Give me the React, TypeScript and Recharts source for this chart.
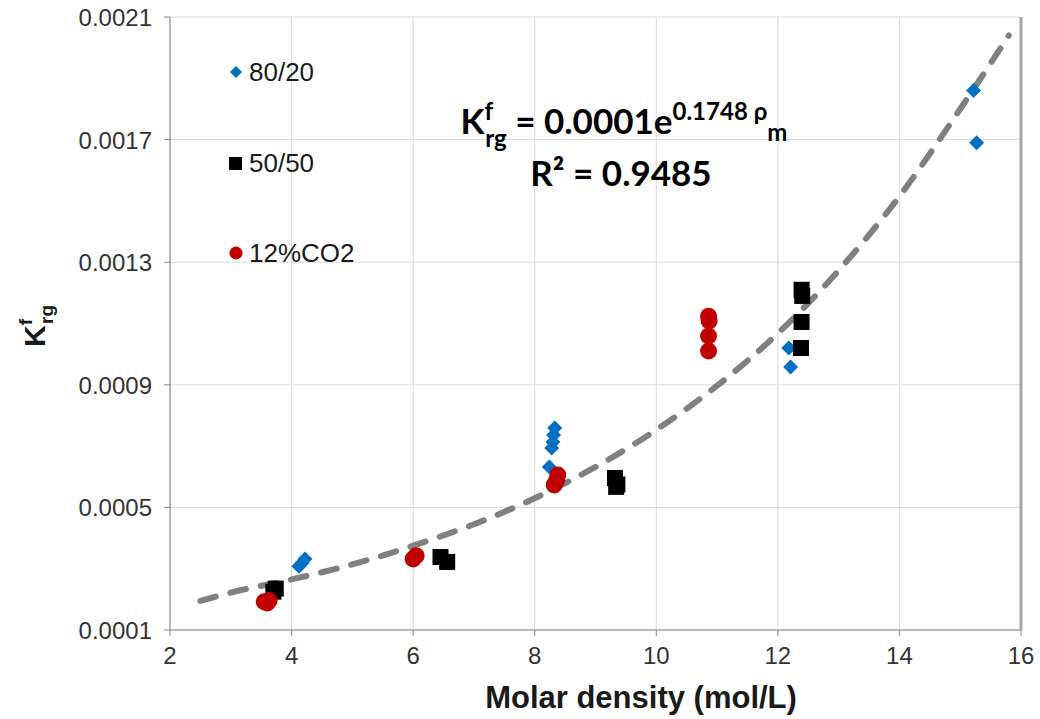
import React from 'react';
import { ScatterChart, Scatter, XAxis, YAxis, CartesianGrid, ReferenceLine } from 'recharts';

// x ticks / y ticks
const xTicks = [2, 4, 6, 8, 10, 12, 14, 16];
const yTicks = [0.0001, 0.0005, 0.0009, 0.0013, 0.0017, 0.0021];
const yTickLabels = ['0.0001', '0.0005', '0.0009', '0.0013', '0.0017', '0.0021'];

// 80/20
const x8020 = [4.12, 4.17, 4.22, 8.24, 8.28, 8.3, 8.31, 8.33, 12.18, 12.21, 15.22, 15.27];
const y8020 = [0.000308, 0.000318, 0.000332, 0.000632, 0.000694, 0.000713, 0.000736, 0.000759, 0.00102, 0.000958, 0.00186, 0.00169];

// 50/50
const x5050 = [3.7, 3.74, 6.45, 6.56, 9.32, 9.34, 9.36, 12.39, 12.4, 12.39, 12.38];
const y5050 = [0.000225, 0.000235, 0.000338, 0.000322, 0.000596, 0.000567, 0.000575, 0.00121, 0.00119, 0.001105, 0.00102];

// 12%CO2
const xCO2 = [3.55, 3.6, 3.63, 6.0, 6.05, 8.38, 8.36, 8.32, 10.86, 10.87, 10.86, 10.86];
const yCO2 = [0.000192, 0.000188, 0.000196, 0.000332, 0.000342, 0.000606, 0.000588, 0.000573, 0.001124, 0.001108, 0.001059, 0.00101];

// trendline
const trendX = [2.5, 3, 4, 5, 6, 7, 8, 9, 10, 11, 12, 13, 14, 15, 15.8];
const trendY = [0.000195, 0.000222, 0.000265, 0.000314, 0.000375, 0.000445, 0.00053, 0.000632, 0.000753, 0.000897, 0.001068, 0.001273, 0.001515, 0.0018, 0.00204];

const zip = (xs: number[], ys: number[]) => xs.map((x, i) => ({ x, y: ys[i] }));
const data8020 = zip(x8020, y8020);
const data5050 = zip(x5050, y5050);
const dataCO2 = zip(xCO2, yCO2);
const dataTrend = zip(trendX, trendY);

const FONT = '"Liberation Sans", Arial, sans-serif';
const TEXT = '#333333';

const Diamond = (p: any) => (
  <polygon
    points={`${p.cx},${p.cy - 7.5} ${p.cx + 7.5},${p.cy} ${p.cx},${p.cy + 7.5} ${p.cx - 7.5},${p.cy}`}
    fill="#0070c0"
  />
);
const Square = (p: any) => <rect x={p.cx - 8} y={p.cy - 8} width={16} height={16} fill="#000" />;
const Dot = (p: any) => <circle cx={p.cx} cy={p.cy} r={8.5} fill="#c00000" />;
const NoShape = () => <g />;

const YTick = (p: any) => {
  const i = yTicks.indexOf(p.payload.value);
  return (
    <text x={p.x - 10} y={p.y + 9} textAnchor="end" fontSize={24} fontFamily={FONT} fill={TEXT}>
      {i >= 0 ? yTickLabels[i] : p.payload.value}
    </text>
  );
};

const XTick = (p: any) => (
  <text x={p.x} y={p.y + 26} textAnchor="middle" fontSize={24} fontFamily={FONT} fill={TEXT}>
    {p.payload.value}
  </text>
);

const App = () => {
  return (
    <div style={{ position: 'absolute', left: 0, top: 0, width: 1040, height: 719, background: '#fff' }}>
      <ScatterChart width={1040} height={719} margin={{ top: 17, right: 19, left: 0, bottom: 0 }}>
        <CartesianGrid stroke="#d9d9d9" strokeWidth={1} />
        <XAxis
          type="number"
          dataKey="x"
          domain={[2, 16]}
          ticks={xTicks}
          height={89}
          stroke="#868686"
          tickSize={6}
          tick={<XTick />}
          allowDataOverflow
        />
        <YAxis
          type="number"
          dataKey="y"
          domain={[0.0001, 0.0021]}
          ticks={yTicks}
          width={170}
          stroke="#868686"
          tickSize={6}
          tick={<YTick />}
          allowDataOverflow
        />
        <ReferenceLine x={16} stroke="#a6a6a6" strokeWidth={3} />
        <Scatter
          data={dataTrend}
          line={{ stroke: '#808080', strokeWidth: 6, strokeDasharray: '16 15', strokeLinecap: 'round' }}
          lineJointType="monotoneX"
          shape={<NoShape />}
          isAnimationActive={false}
        />
        <Scatter data={data8020} shape={<Diamond />} isAnimationActive={false} />
        <Scatter data={data5050} shape={<Square />} isAnimationActive={false} />
        <Scatter data={dataCO2} shape={<Dot />} isAnimationActive={false} />
      </ScatterChart>

      <svg width={1040} height={719} style={{ position: 'absolute', left: 0, top: 0, pointerEvents: 'none' }}>
        {/* legend */}
        <polygon points="236,66 242,72 236,78 230,72" fill="#0070c0" />
        <text x={249} y={81} fontSize={26} fontFamily={FONT} fill="#1a1a1a">80/20</text>
        <rect x={229} y={157} width={13} height={13} fill="#000" />
        <text x={249} y={172} fontSize={26} fontFamily={FONT} fill="#1a1a1a">50/50</text>
        <circle cx={236} cy={253} r={6.5} fill="#c00000" />
        <text x={249} y={262} fontSize={26} fontFamily={FONT} fill="#1a1a1a">12%CO2</text>

        {/* equation */}
        <text x={624} y={134} textAnchor="middle" fontSize={35} fontWeight="bold" fontFamily="Lato, sans-serif" fill="#000">
          K<tspan fontSize={24} dy={-14}>f</tspan>
          <tspan fontSize={24} dx={-8} dy={27}>rg</tspan>
          <tspan dy={-13}> = 0.0001e</tspan>
          <tspan fontSize={24} dy={-14}>0.1748 ρ</tspan>
          <tspan fontSize={24} dy={21}>m</tspan>
        </text>
        <text x={621} y={186} textAnchor="middle" fontSize={35} fontWeight="bold" fontFamily="Lato, sans-serif" fill="#000">
          R² = 0.9485
        </text>

        {/* axis titles */}
        <text x={641} y={708} textAnchor="middle" fontSize={31} fontWeight="bold" fontFamily={FONT} fill="#1a1a1a">
          Molar density (mol/L)
        </text>
        <text transform="translate(45,326) rotate(-90)" textAnchor="middle" fontSize={30} fontWeight="bold" fontFamily={FONT} fill="#1a1a1a">
          K<tspan fontSize={19} dy={-13}>f</tspan>
          <tspan fontSize={19} dx={-5} dy={21}>rg</tspan>
        </text>
      </svg>
    </div>
  );
};

export default App;
